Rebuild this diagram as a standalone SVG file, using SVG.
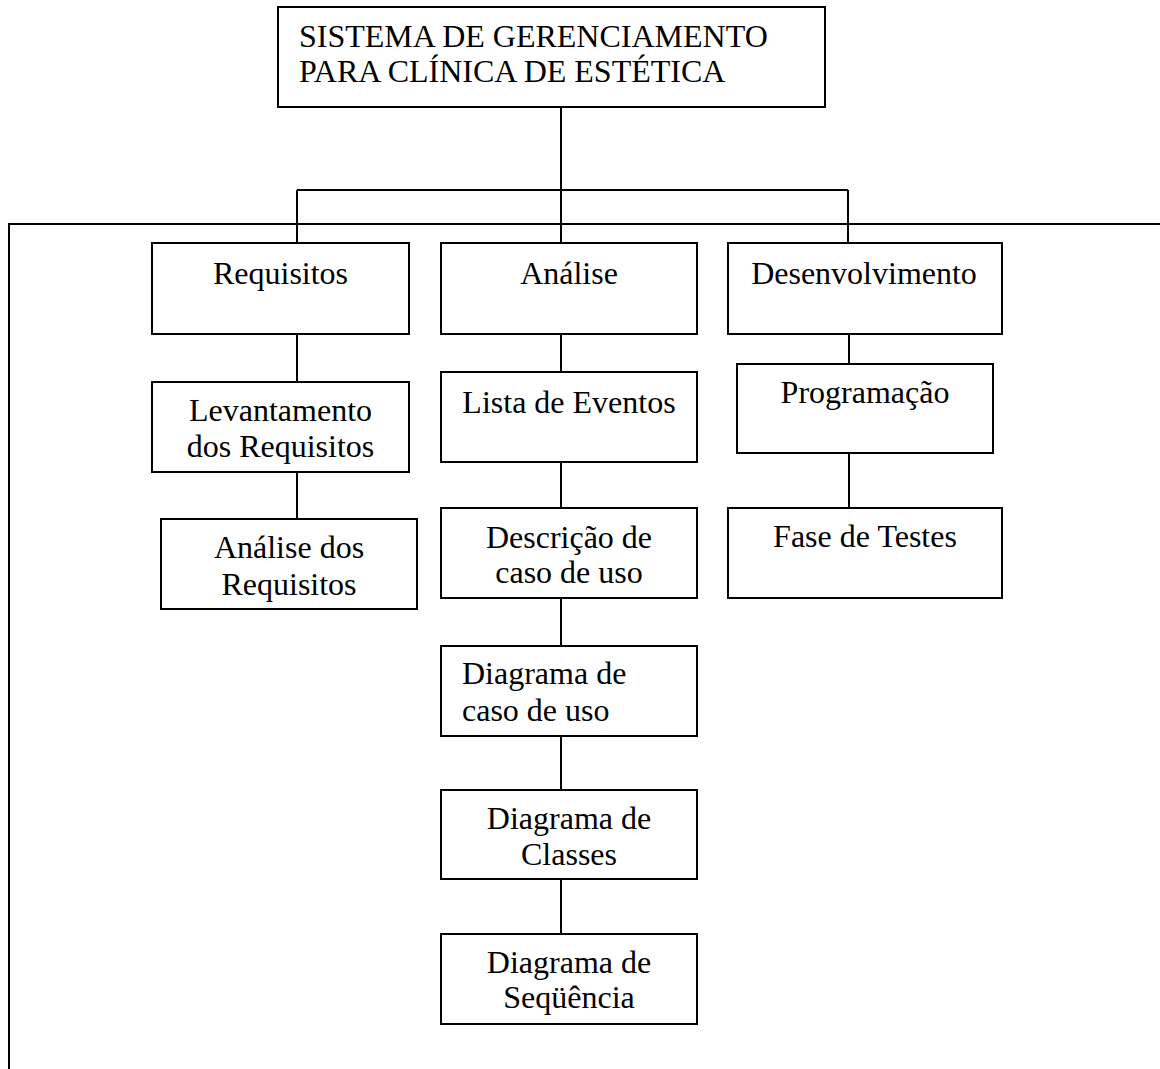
<svg xmlns="http://www.w3.org/2000/svg" width="1160" height="1069" viewBox="0 0 1160 1069">
<style>
.box{fill:#fff;stroke:#000;stroke-width:2}
.ln{fill:none;stroke:#000;stroke-width:2}
text{font-family:"Liberation Serif","Times New Roman",serif;font-size:32px;fill:#000}
.c{text-anchor:middle}
</style>
<rect width="1160" height="1069" fill="#fff"/>
<g id="connectors">
<path class="ln" d="M9,1069 V224 H1160"/>
<path class="ln" d="M561,107 V243"/>
<path class="ln" d="M297,190 H848"/>
<path class="ln" d="M297,190 V243"/>
<path class="ln" d="M848,190 V243"/>
<path class="ln" d="M297,334 V382"/>
<path class="ln" d="M297,472 V519"/>
<path class="ln" d="M561,334 V372"/>
<path class="ln" d="M561,462 V508"/>
<path class="ln" d="M561,598 V646"/>
<path class="ln" d="M561,736 V790"/>
<path class="ln" d="M561,879 V934"/>
<path class="ln" d="M849,334 V364"/>
<path class="ln" d="M849,453 V508"/>
</g>
<g id="n-sistema">
<rect class="box" x="278" y="7" width="547" height="100"/>
<text x="299" y="47">SISTEMA DE GERENCIAMENTO</text>
<text x="299" y="82">PARA CLÍNICA DE ESTÉTICA</text>
</g>
<g id="n-requisitos">
<rect class="box" x="152" y="243" width="257" height="91"/>
<text class="c" x="280.5" y="284">Requisitos</text>
</g>
<g id="n-analise">
<rect class="box" x="441" y="243" width="256" height="91"/>
<text class="c" x="569" y="284">Análise</text>
</g>
<g id="n-desenvolvimento">
<rect class="box" x="728" y="243" width="274" height="91"/>
<text class="c" x="864" y="284">Desenvolvimento</text>
</g>
<g id="n-levantamento">
<rect class="box" x="152" y="382" width="257" height="90"/>
<text class="c" x="280.5" y="421">Levantamento</text>
<text class="c" x="280.5" y="457">dos Requisitos</text>
</g>
<g id="n-analise-req">
<rect class="box" x="161" y="519" width="256" height="90"/>
<text class="c" x="289" y="558">Análise dos</text>
<text class="c" x="289" y="595">Requisitos</text>
</g>
<g id="n-lista">
<rect class="box" x="441" y="372" width="256" height="90"/>
<text class="c" x="569" y="413">Lista de Eventos</text>
</g>
<g id="n-descricao">
<rect class="box" x="441" y="508" width="256" height="90"/>
<text class="c" x="569" y="548">Descrição de</text>
<text class="c" x="569" y="583">caso de uso</text>
</g>
<g id="n-diag-caso">
<rect class="box" x="441" y="646" width="256" height="90"/>
<text x="462" y="684">Diagrama de</text>
<text x="462" y="721">caso de uso</text>
</g>
<g id="n-diag-classes">
<rect class="box" x="441" y="790" width="256" height="89"/>
<text class="c" x="569" y="829">Diagrama de</text>
<text class="c" x="569" y="865">Classes</text>
</g>
<g id="n-diag-seq">
<rect class="box" x="441" y="934" width="256" height="90"/>
<text class="c" x="569" y="973">Diagrama de</text>
<text class="c" x="569" y="1008">Seqüência</text>
</g>
<g id="n-programacao">
<rect class="box" x="737" y="364" width="256" height="89"/>
<text class="c" x="865" y="403">Programação</text>
</g>
<g id="n-fase">
<rect class="box" x="728" y="508" width="274" height="90"/>
<text class="c" x="865" y="547">Fase de Testes</text>
</g>
</svg>
